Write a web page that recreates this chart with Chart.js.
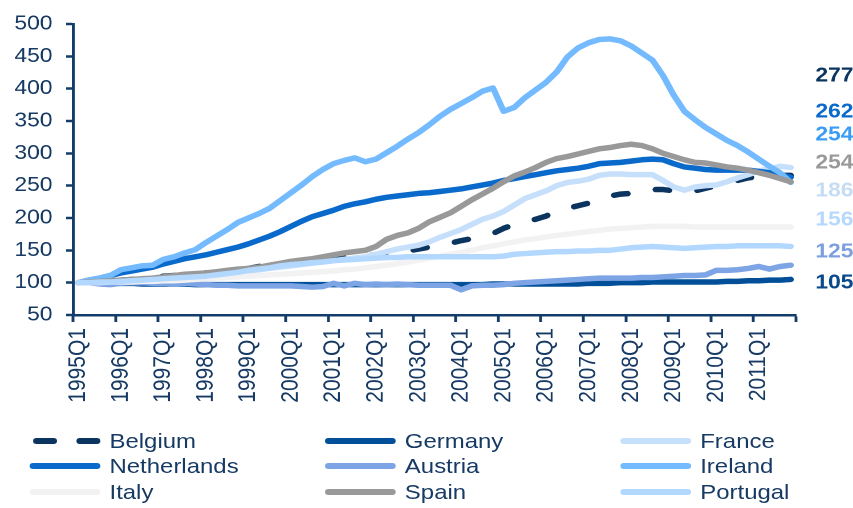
<!DOCTYPE html>
<html>
<head>
<meta charset="utf-8">
<script src="https://cdn.jsdelivr.net/npm/chart.js@4"></script>
<style>
  html, body { margin: 0; padding: 0; background: #ffffff; overflow: hidden; }
  #wrap { position: relative; width: 748px; height: 508px; transform: scaleX(1.1404); transform-origin: 0 0; font-family: "Liberation Sans", Arial, sans-serif; }
  #chartBox { position: absolute; left: 0; top: 0; width: 748px; height: 420px; }
  .lg { position: absolute; height: 24px; line-height: 24px; font-size: 21px; color: #163a63; white-space: nowrap; }
  .lgline { position: absolute; height: 6px; border-radius: 3px; }
</style>
</head>
<body>
<div id="wrap">
  <div id="chartBox"><canvas id="c"></canvas></div>
  <div id="legend"></div>
</div>
<script>
// ---- categories ----
const years = [1995,1996,1997,1998,1999,2000,2001,2002,2003,2004,2005,2006,2007,2008,2009,2010,2011];
const quarters = [];
years.forEach(y => { for (let q = 1; q <= 4; q++) quarters.push(y + 'Q' + q); });

// ---- series values (index 1995Q1 = 100) ----
const belgium = [100,101,102,103,104,105,106,108,110,111,112,113,115,116,117,119,122,125,127,129,131,133,135,137,139,140,141,142,143,145,147,149,152,155,158,161,165,168,172,176,184,190,194,198,203,211,215,219,223,229,234,237,238,241,244,244,242,239,242,246,250,254,258,262,264,265,266,266];
const germany = [100,100,99,99,99,99,98,98,98,98,98,97,97,97,97,97,97,97,97,97,97,97,97,97,97,97,97,97,97,97,97,97,97,97,97,97,97,97,97,98,98,98,98,98,98,98,98,98,99,99,99,100,100,100,101,101,101,101,101,101,101,102,102,103,103,104,104,105];
const france = [100,100,100,100,100,100,100,100,101,102,104,106,108,110,112,114,117,120,122,124,126,128,130,132,134,136,138,140,144,148,152,155,158,163,170,176,182,190,198,203,210,220,230,236,242,250,255,257,260,266,268,268,267,267,267,258,248,243,248,250,251,256,262,267,273,276,280,278];
const netherlands = [100,104,107,111,115,118,121,124,129,133,137,140,143,147,151,155,160,166,172,179,187,195,202,207,212,218,222,225,229,232,234,236,238,239,241,243,245,248,251,254,258,261,264,267,270,273,275,277,280,284,285,286,288,290,291,290,284,279,277,275,274,274,274,274,272,270,267,263];
const austria = [100,100,98,97,99,100,100,99,99,98,99,98,97,96,96,95,95,95,95,95,95,94,93,94,99,95,99,97,98,97,98,97,96,96,96,96,89,95,96,96,97,99,100,101,102,103,104,105,106,107,107,107,107,108,108,109,110,111,111,112,119,119,120,122,125,121,125,127];
const ireland = [100,104,107,111,120,123,126,127,136,140,146,151,162,172,182,193,200,207,215,227,239,251,264,275,284,289,293,287,291,301,311,322,332,344,357,368,377,386,396,401,365,371,386,398,410,426,449,463,471,476,477,474,466,455,444,420,390,365,352,340,330,320,312,302,291,280,270,255];
const italy = [100,100,100,101,101,101,102,102,103,103,104,105,106,107,108,109,110,111,112,113,114,115,116,117,118,120,121,123,125,127,129,132,135,138,141,144,147,150,154,157,160,163,166,168,171,173,175,177,179,181,183,184,185,186,187,187,187,187,186,186,186,186,186,186,186,186,186,186];
const spain = [100,101,102,103,104,105,106,107,109,111,113,114,115,117,119,121,122,124,127,130,133,135,137,140,143,146,148,150,156,167,173,177,184,194,201,208,218,228,237,246,256,265,271,278,286,292,295,299,303,307,309,312,314,312,307,300,295,290,286,285,282,279,277,274,270,266,261,256];
const portugal = [100,100,101,101,102,103,104,105,106,107,108,109,110,112,114,116,119,121,123,126,128,129,131,132,134,135,136,137,138,139,139,140,140,140,140,140,140,140,140,140,141,144,145,146,147,148,148,149,149,150,150,152,154,155,156,155,154,153,154,155,156,156,157,157,157,157,157,156];

// ---- series meta ----
const seriesNames = ['Belgium','Germany','France','Netherlands','Austria','Ireland','Italy','Spain','Portugal'];
const seriesData = [belgium, germany, france, netherlands, austria, ireland, italy, spain, portugal];
const seriesColors = ['#0b355f','#004f98','#c6e0fb','#0a6acb','#7da4e4','#74baff','#f2f2f2','#999999','#b3d8ff'];

// ---- end-value labels on the right ----
const endLabels = ['277','262','254','254','186','156','125','105'];
const endLabelColors = ['#0b355f','#0a6acb','#3a9cf5','#999999','#c6dcf5','#b7d8fd','#7d9fe0','#0a4a8a'];
const endLabelY = [76,112,135,163,191,220,252,283];

// ---- y ticks ----
const yMin = 50, yMax = 500, yStep = 50;

const navy = '#163a63';
const axisColor = '#123d6a';
const fontFamily = '"Liberation Sans", Arial, sans-serif';

const datasets = seriesNames.map((name, i) => ({
  label: name,
  data: seriesData[i],
  borderColor: seriesColors[i],
  backgroundColor: seriesColors[i],
  borderWidth: 5.5,
  pointRadius: 0,
  tension: 0,
  fill: false,
  borderCapStyle: 'round',
  borderJoinStyle: 'round',
  borderDash: name === 'Belgium' ? [12, 25] : [],
  order: seriesNames.length - i
}));

const endLabelPlugin = {
  id: 'endLabels',
  afterDraw(chart) {
    const ctx = chart.ctx;
    const area = chart.chartArea;
    ctx.save();
    ctx.font = 'bold 20px ' + fontFamily;
    ctx.textAlign = 'left';
    ctx.textBaseline = 'middle';
    endLabels.forEach((t, i) => {
      ctx.fillStyle = endLabelColors[i];
      ctx.fillText(t, area.right + 17, endLabelY[i]);
    });
    ctx.restore();
  }
};

new Chart(document.getElementById('c'), {
  type: 'line',
  data: { labels: quarters, datasets },
  options: {
    responsive: true,
    maintainAspectRatio: false,
    animation: false,
    devicePixelRatio: 2,
    layout: { padding: { top: 19, right: 50, left: 0, bottom: 0 } },
    plugins: { legend: { display: false }, tooltip: { enabled: false } },
    scales: {
      x: {
        type: 'category',
        offset: true,
        afterFit(scale) { scale.height = 105; },
        grid: {
          offset: true,
          drawOnChartArea: false,
          drawTicks: true,
          tickLength: 7,
          tickWidth: 2.5,
          tickColor: (c) => (c.index === undefined || c.index % 4 === 0) ? axisColor : 'rgba(0,0,0,0)'
        },
        border: { display: true, color: axisColor, width: 2.5 },
        ticks: {
          autoSkip: false,
          maxRotation: 90,
          minRotation: 90,
          padding: 6,
          color: navy,
          font: { family: fontFamily, size: 21 },
          callback: (v, i) => (i % 4 === 0 ? quarters[i] : '')
        }
      },
      y: {
        min: yMin,
        max: yMax,
        afterFit(scale) { scale.width = 64; },
        grid: {
          drawOnChartArea: false,
          drawTicks: true,
          tickLength: 6,
          tickWidth: 2.5,
          tickColor: axisColor
        },
        border: { display: true, color: axisColor, width: 2.5 },
        ticks: {
          stepSize: yStep,
          padding: 12,
          color: navy,
          font: { family: fontFamily, size: 20 }
        }
      }
    }
  },
  plugins: [endLabelPlugin]
});

// ---- HTML legend (3 columns) ----
const legendCols = [26, 285, 544];
const legendRows = [441, 466, 492];
const legend = document.getElementById('legend');
seriesNames.forEach((name, i) => {
  const col = i % 3, row = Math.floor(i / 3);
  const x = legendCols[col], yc = legendRows[row];
  if (name === 'Belgium') {
    [[x + 3, 21], [x + 41, 21]].forEach(([lx, w]) => {
      const d = document.createElement('div');
      d.className = 'lgline';
      d.style.left = lx + 'px'; d.style.width = w + 'px'; d.style.top = (yc - 3) + 'px';
      d.style.background = seriesColors[i];
      legend.appendChild(d);
    });
  } else {
    const d = document.createElement('div');
    d.className = 'lgline';
    d.style.left = x + 'px'; d.style.width = '62px'; d.style.top = (yc - 3) + 'px';
    d.style.background = seriesColors[i];
    legend.appendChild(d);
  }
  const t = document.createElement('div');
  t.className = 'lg';
  t.textContent = name;
  t.style.left = (x + 70) + 'px';
  t.style.top = (yc - 12) + 'px';
  legend.appendChild(t);
});
</script>
</body>
</html>
